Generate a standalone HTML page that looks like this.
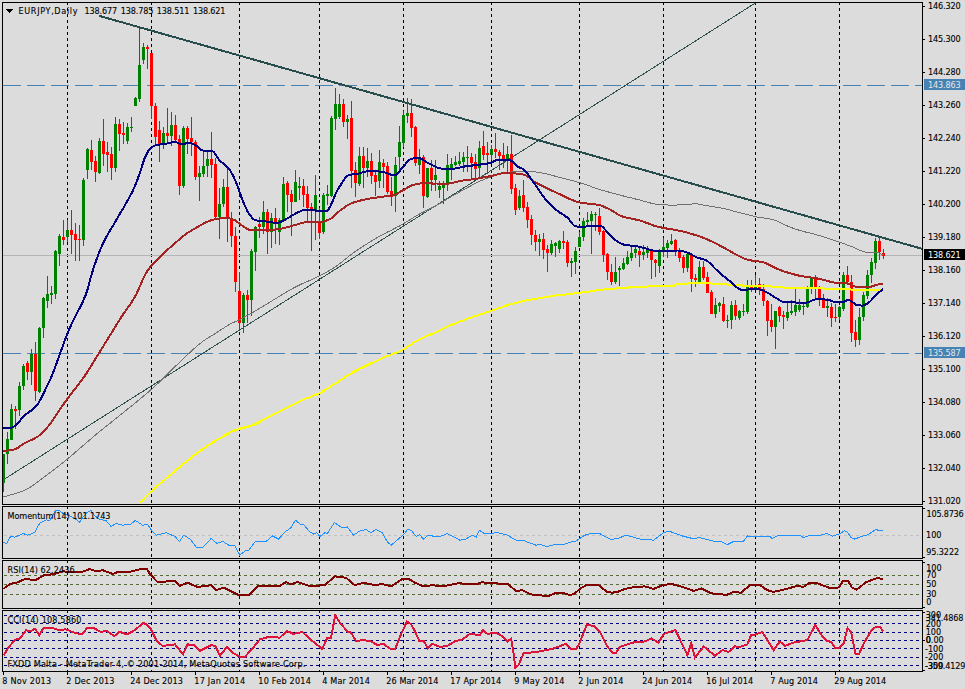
<!DOCTYPE html>
<html><head><meta charset="utf-8"><title>EURJPY,Daily</title>
<style>html,body{margin:0;padding:0;background:#dcdcdc;overflow:hidden}svg text{white-space:pre;stroke:#000;stroke-width:.22px;stroke-opacity:.55}svg text[fill]{stroke:none}</style></head>
<body>
<svg width="965" height="689" viewBox="0 0 965 689" style="display:block;font-family:'DejaVu Sans Condensed', 'Liberation Sans', sans-serif;font-size:9px;letter-spacing:0px">
<rect width="965" height="689" fill="#dcdcdc"/>
<g shape-rendering="crispEdges">
<defs>
<clipPath id="cp0"><rect x="3" y="3" width="919" height="501"/></clipPath>
<clipPath id="cp1"><rect x="3" y="507" width="919" height="51"/></clipPath>
<clipPath id="cp2"><rect x="3" y="561" width="919" height="47"/></clipPath>
<clipPath id="cp3"><rect x="3" y="611" width="919" height="60"/></clipPath>
</defs>
<g clip-path="url(#cp0)">
<line x1="67.5" y1="2" x2="67.5" y2="504" stroke="#000" stroke-width="1" stroke-dasharray="3 3"/><line x1="151.5" y1="2" x2="151.5" y2="504" stroke="#000" stroke-width="1" stroke-dasharray="3 3"/><line x1="239.5" y1="2" x2="239.5" y2="504" stroke="#000" stroke-width="1" stroke-dasharray="3 3"/><line x1="319.5" y1="2" x2="319.5" y2="504" stroke="#000" stroke-width="1" stroke-dasharray="3 3"/><line x1="403.5" y1="2" x2="403.5" y2="504" stroke="#000" stroke-width="1" stroke-dasharray="3 3"/><line x1="491.5" y1="2" x2="491.5" y2="504" stroke="#000" stroke-width="1" stroke-dasharray="3 3"/><line x1="579.5" y1="2" x2="579.5" y2="504" stroke="#000" stroke-width="1" stroke-dasharray="3 3"/><line x1="663.5" y1="2" x2="663.5" y2="504" stroke="#000" stroke-width="1" stroke-dasharray="3 3"/><line x1="755.5" y1="2" x2="755.5" y2="504" stroke="#000" stroke-width="1" stroke-dasharray="3 3"/><line x1="839.5" y1="2" x2="839.5" y2="504" stroke="#000" stroke-width="1" stroke-dasharray="3 3"/>
<line x1="3" y1="85.5" x2="922" y2="85.5" stroke="#4682b4" stroke-width="1" stroke-dasharray="18 6"/>
<line x1="3" y1="353.5" x2="922" y2="353.5" stroke="#4682b4" stroke-width="1" stroke-dasharray="18 6"/>
<line x1="3" y1="255.5" x2="922" y2="255.5" stroke="#b4b4b4" stroke-width="1"/>
<line x1="3" y1="480" x2="756" y2="2.6" stroke="#2f4f4f" stroke-width="1"/>
<rect x="3" y="454" width="1" height="38" fill="#008000"/>
<rect x="2" y="454" width="3" height="29" fill="#008000"/>
<rect x="7" y="432" width="1" height="32" fill="#008000"/>
<rect x="6" y="439" width="3" height="15" fill="#008000"/>
<rect x="11" y="404" width="1" height="36" fill="#008000"/>
<rect x="10" y="409" width="3" height="31" fill="#008000"/>
<rect x="15" y="406" width="1" height="23" fill="#ff0000"/>
<rect x="14" y="409" width="3" height="2" fill="#ff0000"/>
<rect x="19" y="382" width="1" height="34" fill="#008000"/>
<rect x="18" y="386" width="3" height="24" fill="#008000"/>
<rect x="23" y="364" width="1" height="26" fill="#008000"/>
<rect x="22" y="366" width="3" height="20" fill="#008000"/>
<rect x="27" y="361" width="1" height="19" fill="#ff0000"/>
<rect x="26" y="363" width="3" height="9" fill="#ff0000"/>
<rect x="31" y="349" width="1" height="36" fill="#008000"/>
<rect x="30" y="354" width="3" height="18" fill="#008000"/>
<rect x="35" y="342" width="1" height="59" fill="#ff0000"/>
<rect x="34" y="354" width="3" height="37" fill="#ff0000"/>
<rect x="39" y="327" width="1" height="66" fill="#008000"/>
<rect x="38" y="328" width="3" height="64" fill="#008000"/>
<rect x="43" y="297" width="1" height="41" fill="#008000"/>
<rect x="42" y="298" width="3" height="30" fill="#008000"/>
<rect x="47" y="276" width="1" height="32" fill="#008000"/>
<rect x="46" y="294" width="3" height="7" fill="#008000"/>
<rect x="51" y="286" width="1" height="18" fill="#008000"/>
<rect x="50" y="293" width="3" height="2" fill="#008000"/>
<rect x="55" y="250" width="1" height="49" fill="#008000"/>
<rect x="54" y="251" width="3" height="43" fill="#008000"/>
<rect x="59" y="234" width="1" height="32" fill="#008000"/>
<rect x="58" y="236" width="3" height="18" fill="#008000"/>
<rect x="63" y="220" width="1" height="25" fill="#ff0000"/>
<rect x="62" y="237" width="3" height="3" fill="#ff0000"/>
<rect x="67" y="220" width="1" height="22" fill="#008000"/>
<rect x="66" y="230" width="3" height="7" fill="#008000"/>
<rect x="71" y="210" width="1" height="44" fill="#ff0000"/>
<rect x="70" y="230" width="3" height="5" fill="#ff0000"/>
<rect x="75" y="223" width="1" height="38" fill="#ff0000"/>
<rect x="74" y="234" width="3" height="6" fill="#ff0000"/>
<rect x="79" y="225" width="1" height="36" fill="#ff0000"/>
<rect x="78" y="239" width="3" height="1" fill="#ff0000"/>
<rect x="83" y="178" width="1" height="68" fill="#008000"/>
<rect x="82" y="180" width="3" height="60" fill="#008000"/>
<rect x="87" y="148" width="1" height="31" fill="#008000"/>
<rect x="86" y="149" width="3" height="21" fill="#008000"/>
<rect x="91" y="140" width="1" height="30" fill="#ff0000"/>
<rect x="90" y="150" width="3" height="12" fill="#ff0000"/>
<rect x="95" y="156" width="1" height="26" fill="#ff0000"/>
<rect x="94" y="161" width="3" height="11" fill="#ff0000"/>
<rect x="99" y="138" width="1" height="36" fill="#008000"/>
<rect x="98" y="141" width="3" height="32" fill="#008000"/>
<rect x="103" y="119" width="1" height="47" fill="#ff0000"/>
<rect x="102" y="141" width="3" height="13" fill="#ff0000"/>
<rect x="107" y="142" width="1" height="30" fill="#ff0000"/>
<rect x="106" y="152" width="3" height="3" fill="#ff0000"/>
<rect x="111" y="147" width="1" height="33" fill="#ff0000"/>
<rect x="110" y="154" width="3" height="14" fill="#ff0000"/>
<rect x="115" y="117" width="1" height="55" fill="#008000"/>
<rect x="114" y="124" width="3" height="44" fill="#008000"/>
<rect x="119" y="119" width="1" height="32" fill="#ff0000"/>
<rect x="118" y="124" width="3" height="10" fill="#ff0000"/>
<rect x="123" y="122" width="1" height="22" fill="#ff0000"/>
<rect x="122" y="133" width="3" height="2" fill="#ff0000"/>
<rect x="127" y="123" width="1" height="21" fill="#008000"/>
<rect x="126" y="127" width="3" height="14" fill="#008000"/>
<rect x="131" y="117" width="1" height="15" fill="#008000"/>
<rect x="130" y="127" width="3" height="1" fill="#008000"/>
<rect x="135" y="97" width="1" height="9" fill="#008000"/>
<rect x="134" y="98" width="3" height="8" fill="#008000"/>
<rect x="139" y="27" width="1" height="75" fill="#008000"/>
<rect x="138" y="65" width="3" height="34" fill="#008000"/>
<rect x="143" y="43" width="1" height="21" fill="#008000"/>
<rect x="142" y="47" width="3" height="13" fill="#008000"/>
<rect x="147" y="45" width="1" height="24" fill="#ff0000"/>
<rect x="146" y="47" width="3" height="2" fill="#ff0000"/>
<rect x="151" y="53" width="1" height="66" fill="#ff0000"/>
<rect x="150" y="53" width="3" height="53" fill="#ff0000"/>
<rect x="155" y="103" width="1" height="41" fill="#ff0000"/>
<rect x="154" y="106" width="3" height="31" fill="#ff0000"/>
<rect x="159" y="121" width="1" height="41" fill="#ff0000"/>
<rect x="158" y="130" width="3" height="14" fill="#ff0000"/>
<rect x="163" y="127" width="1" height="22" fill="#008000"/>
<rect x="162" y="133" width="3" height="11" fill="#008000"/>
<rect x="167" y="108" width="1" height="35" fill="#ff0000"/>
<rect x="166" y="133" width="3" height="3" fill="#ff0000"/>
<rect x="171" y="112" width="1" height="34" fill="#008000"/>
<rect x="170" y="125" width="3" height="11" fill="#008000"/>
<rect x="175" y="115" width="1" height="28" fill="#ff0000"/>
<rect x="174" y="125" width="3" height="15" fill="#ff0000"/>
<rect x="179" y="135" width="1" height="60" fill="#ff0000"/>
<rect x="178" y="139" width="3" height="47" fill="#ff0000"/>
<rect x="183" y="126" width="1" height="62" fill="#008000"/>
<rect x="182" y="128" width="3" height="58" fill="#008000"/>
<rect x="187" y="126" width="1" height="28" fill="#ff0000"/>
<rect x="186" y="128" width="3" height="11" fill="#ff0000"/>
<rect x="191" y="117" width="1" height="39" fill="#ff0000"/>
<rect x="190" y="138" width="3" height="4" fill="#ff0000"/>
<rect x="195" y="140" width="1" height="40" fill="#ff0000"/>
<rect x="194" y="142" width="3" height="35" fill="#ff0000"/>
<rect x="199" y="166" width="1" height="35" fill="#008000"/>
<rect x="198" y="173" width="3" height="4" fill="#008000"/>
<rect x="203" y="152" width="1" height="25" fill="#008000"/>
<rect x="202" y="166" width="3" height="8" fill="#008000"/>
<rect x="207" y="152" width="1" height="25" fill="#008000"/>
<rect x="206" y="159" width="3" height="7" fill="#008000"/>
<rect x="211" y="132" width="1" height="46" fill="#ff0000"/>
<rect x="210" y="159" width="3" height="6" fill="#ff0000"/>
<rect x="215" y="158" width="1" height="61" fill="#ff0000"/>
<rect x="214" y="164" width="3" height="53" fill="#ff0000"/>
<rect x="219" y="188" width="1" height="51" fill="#008000"/>
<rect x="218" y="204" width="3" height="13" fill="#008000"/>
<rect x="223" y="179" width="1" height="28" fill="#008000"/>
<rect x="222" y="187" width="3" height="17" fill="#008000"/>
<rect x="227" y="169" width="1" height="73" fill="#ff0000"/>
<rect x="226" y="187" width="3" height="31" fill="#ff0000"/>
<rect x="231" y="212" width="1" height="35" fill="#ff0000"/>
<rect x="230" y="218" width="3" height="18" fill="#ff0000"/>
<rect x="235" y="227" width="1" height="65" fill="#ff0000"/>
<rect x="234" y="236" width="3" height="46" fill="#ff0000"/>
<rect x="239" y="272" width="1" height="57" fill="#ff0000"/>
<rect x="238" y="291" width="3" height="32" fill="#ff0000"/>
<rect x="243" y="293" width="1" height="40" fill="#008000"/>
<rect x="242" y="295" width="3" height="28" fill="#008000"/>
<rect x="247" y="290" width="1" height="33" fill="#ff0000"/>
<rect x="246" y="295" width="3" height="5" fill="#ff0000"/>
<rect x="251" y="249" width="1" height="67" fill="#008000"/>
<rect x="250" y="251" width="3" height="49" fill="#008000"/>
<rect x="255" y="226" width="1" height="45" fill="#008000"/>
<rect x="254" y="227" width="3" height="25" fill="#008000"/>
<rect x="259" y="217" width="1" height="21" fill="#ff0000"/>
<rect x="258" y="224" width="3" height="3" fill="#ff0000"/>
<rect x="263" y="201" width="1" height="33" fill="#008000"/>
<rect x="262" y="212" width="3" height="15" fill="#008000"/>
<rect x="267" y="209" width="1" height="45" fill="#ff0000"/>
<rect x="266" y="212" width="3" height="20" fill="#ff0000"/>
<rect x="271" y="213" width="1" height="35" fill="#008000"/>
<rect x="270" y="218" width="3" height="14" fill="#008000"/>
<rect x="275" y="208" width="1" height="36" fill="#ff0000"/>
<rect x="274" y="218" width="3" height="4" fill="#ff0000"/>
<rect x="279" y="218" width="1" height="27" fill="#008000"/>
<rect x="278" y="220" width="3" height="12" fill="#008000"/>
<rect x="283" y="177" width="1" height="45" fill="#008000"/>
<rect x="282" y="184" width="3" height="36" fill="#008000"/>
<rect x="287" y="181" width="1" height="31" fill="#ff0000"/>
<rect x="286" y="183" width="3" height="12" fill="#ff0000"/>
<rect x="291" y="190" width="1" height="46" fill="#ff0000"/>
<rect x="290" y="194" width="3" height="8" fill="#ff0000"/>
<rect x="295" y="170" width="1" height="32" fill="#008000"/>
<rect x="294" y="182" width="3" height="20" fill="#008000"/>
<rect x="299" y="177" width="1" height="23" fill="#008000"/>
<rect x="298" y="186" width="3" height="2" fill="#008000"/>
<rect x="303" y="179" width="1" height="28" fill="#ff0000"/>
<rect x="302" y="186" width="3" height="9" fill="#ff0000"/>
<rect x="307" y="186" width="1" height="36" fill="#ff0000"/>
<rect x="306" y="194" width="3" height="14" fill="#ff0000"/>
<rect x="311" y="203" width="1" height="48" fill="#ff0000"/>
<rect x="310" y="207" width="3" height="3" fill="#ff0000"/>
<rect x="315" y="175" width="1" height="65" fill="#008000"/>
<rect x="314" y="195" width="3" height="15" fill="#008000"/>
<rect x="319" y="208" width="1" height="31" fill="#ff0000"/>
<rect x="318" y="222" width="3" height="11" fill="#ff0000"/>
<rect x="323" y="193" width="1" height="41" fill="#008000"/>
<rect x="322" y="195" width="3" height="37" fill="#008000"/>
<rect x="327" y="185" width="1" height="20" fill="#008000"/>
<rect x="326" y="194" width="3" height="2" fill="#008000"/>
<rect x="331" y="116" width="1" height="81" fill="#008000"/>
<rect x="330" y="118" width="3" height="78" fill="#008000"/>
<rect x="335" y="88" width="1" height="42" fill="#008000"/>
<rect x="334" y="104" width="3" height="15" fill="#008000"/>
<rect x="339" y="94" width="1" height="25" fill="#008000"/>
<rect x="338" y="104" width="3" height="13" fill="#008000"/>
<rect x="343" y="99" width="1" height="28" fill="#ff0000"/>
<rect x="342" y="104" width="3" height="18" fill="#ff0000"/>
<rect x="347" y="115" width="1" height="24" fill="#008000"/>
<rect x="346" y="119" width="3" height="3" fill="#008000"/>
<rect x="351" y="101" width="1" height="87" fill="#ff0000"/>
<rect x="350" y="118" width="3" height="53" fill="#ff0000"/>
<rect x="355" y="162" width="1" height="35" fill="#ff0000"/>
<rect x="354" y="170" width="3" height="13" fill="#ff0000"/>
<rect x="359" y="147" width="1" height="39" fill="#008000"/>
<rect x="358" y="156" width="3" height="28" fill="#008000"/>
<rect x="363" y="147" width="1" height="41" fill="#ff0000"/>
<rect x="362" y="156" width="3" height="12" fill="#ff0000"/>
<rect x="367" y="148" width="1" height="29" fill="#008000"/>
<rect x="366" y="161" width="3" height="7" fill="#008000"/>
<rect x="371" y="153" width="1" height="31" fill="#ff0000"/>
<rect x="370" y="161" width="3" height="15" fill="#ff0000"/>
<rect x="375" y="170" width="1" height="26" fill="#ff0000"/>
<rect x="374" y="175" width="3" height="7" fill="#ff0000"/>
<rect x="379" y="150" width="1" height="38" fill="#008000"/>
<rect x="378" y="162" width="3" height="19" fill="#008000"/>
<rect x="383" y="159" width="1" height="29" fill="#ff0000"/>
<rect x="382" y="163" width="3" height="4" fill="#ff0000"/>
<rect x="387" y="162" width="1" height="32" fill="#ff0000"/>
<rect x="386" y="166" width="3" height="26" fill="#ff0000"/>
<rect x="391" y="177" width="1" height="29" fill="#ff0000"/>
<rect x="390" y="191" width="3" height="6" fill="#ff0000"/>
<rect x="395" y="157" width="1" height="55" fill="#008000"/>
<rect x="394" y="165" width="3" height="31" fill="#008000"/>
<rect x="399" y="126" width="1" height="44" fill="#008000"/>
<rect x="398" y="142" width="3" height="15" fill="#008000"/>
<rect x="403" y="111" width="1" height="36" fill="#008000"/>
<rect x="402" y="115" width="3" height="28" fill="#008000"/>
<rect x="407" y="98" width="1" height="25" fill="#008000"/>
<rect x="406" y="113" width="3" height="3" fill="#008000"/>
<rect x="411" y="99" width="1" height="38" fill="#ff0000"/>
<rect x="410" y="113" width="3" height="15" fill="#ff0000"/>
<rect x="415" y="126" width="1" height="40" fill="#ff0000"/>
<rect x="414" y="127" width="3" height="36" fill="#ff0000"/>
<rect x="419" y="149" width="1" height="25" fill="#008000"/>
<rect x="418" y="158" width="3" height="7" fill="#008000"/>
<rect x="423" y="155" width="1" height="53" fill="#ff0000"/>
<rect x="422" y="157" width="3" height="39" fill="#ff0000"/>
<rect x="427" y="168" width="1" height="30" fill="#008000"/>
<rect x="426" y="168" width="3" height="29" fill="#008000"/>
<rect x="431" y="160" width="1" height="31" fill="#ff0000"/>
<rect x="430" y="168" width="3" height="12" fill="#ff0000"/>
<rect x="435" y="160" width="1" height="31" fill="#008000"/>
<rect x="434" y="175" width="3" height="5" fill="#008000"/>
<rect x="439" y="181" width="1" height="17" fill="#008000"/>
<rect x="438" y="186" width="3" height="4" fill="#008000"/>
<rect x="443" y="181" width="1" height="23" fill="#008000"/>
<rect x="442" y="184" width="3" height="4" fill="#008000"/>
<rect x="447" y="154" width="1" height="37" fill="#008000"/>
<rect x="446" y="165" width="3" height="20" fill="#008000"/>
<rect x="451" y="158" width="1" height="22" fill="#008000"/>
<rect x="450" y="164" width="3" height="4" fill="#008000"/>
<rect x="455" y="156" width="1" height="10" fill="#008000"/>
<rect x="454" y="162" width="3" height="3" fill="#008000"/>
<rect x="459" y="152" width="1" height="14" fill="#008000"/>
<rect x="458" y="161" width="3" height="3" fill="#008000"/>
<rect x="463" y="152" width="1" height="20" fill="#008000"/>
<rect x="462" y="157" width="3" height="5" fill="#008000"/>
<rect x="467" y="146" width="1" height="26" fill="#008000"/>
<rect x="466" y="157" width="3" height="1" fill="#008000"/>
<rect x="471" y="153" width="1" height="25" fill="#ff0000"/>
<rect x="470" y="157" width="3" height="6" fill="#ff0000"/>
<rect x="475" y="154" width="1" height="24" fill="#ff0000"/>
<rect x="474" y="162" width="3" height="7" fill="#ff0000"/>
<rect x="479" y="141" width="1" height="36" fill="#008000"/>
<rect x="478" y="148" width="3" height="20" fill="#008000"/>
<rect x="483" y="131" width="1" height="29" fill="#ff0000"/>
<rect x="482" y="146" width="3" height="9" fill="#ff0000"/>
<rect x="487" y="142" width="1" height="32" fill="#ff0000"/>
<rect x="486" y="153" width="3" height="2" fill="#ff0000"/>
<rect x="491" y="145" width="1" height="15" fill="#008000"/>
<rect x="490" y="149" width="3" height="6" fill="#008000"/>
<rect x="495" y="133" width="1" height="25" fill="#ff0000"/>
<rect x="494" y="149" width="3" height="3" fill="#ff0000"/>
<rect x="499" y="150" width="1" height="20" fill="#ff0000"/>
<rect x="498" y="152" width="3" height="4" fill="#ff0000"/>
<rect x="503" y="143" width="1" height="25" fill="#ff0000"/>
<rect x="502" y="155" width="3" height="4" fill="#ff0000"/>
<rect x="507" y="146" width="1" height="26" fill="#008000"/>
<rect x="506" y="154" width="3" height="5" fill="#008000"/>
<rect x="511" y="135" width="1" height="59" fill="#ff0000"/>
<rect x="510" y="154" width="3" height="35" fill="#ff0000"/>
<rect x="515" y="184" width="1" height="31" fill="#ff0000"/>
<rect x="514" y="188" width="3" height="22" fill="#ff0000"/>
<rect x="519" y="190" width="1" height="20" fill="#008000"/>
<rect x="518" y="196" width="3" height="12" fill="#008000"/>
<rect x="523" y="180" width="1" height="32" fill="#ff0000"/>
<rect x="522" y="195" width="3" height="13" fill="#ff0000"/>
<rect x="527" y="202" width="1" height="26" fill="#ff0000"/>
<rect x="526" y="207" width="3" height="13" fill="#ff0000"/>
<rect x="531" y="215" width="1" height="30" fill="#ff0000"/>
<rect x="530" y="219" width="3" height="16" fill="#ff0000"/>
<rect x="535" y="230" width="1" height="21" fill="#ff0000"/>
<rect x="534" y="235" width="3" height="7" fill="#ff0000"/>
<rect x="539" y="234" width="1" height="22" fill="#008000"/>
<rect x="538" y="239" width="3" height="3" fill="#008000"/>
<rect x="543" y="233" width="1" height="26" fill="#ff0000"/>
<rect x="542" y="239" width="3" height="11" fill="#ff0000"/>
<rect x="547" y="245" width="1" height="27" fill="#ff0000"/>
<rect x="546" y="249" width="3" height="4" fill="#ff0000"/>
<rect x="551" y="240" width="1" height="15" fill="#008000"/>
<rect x="550" y="244" width="3" height="9" fill="#008000"/>
<rect x="555" y="242" width="1" height="15" fill="#008000"/>
<rect x="554" y="243" width="3" height="3" fill="#008000"/>
<rect x="559" y="240" width="1" height="13" fill="#008000"/>
<rect x="558" y="241" width="3" height="8" fill="#008000"/>
<rect x="563" y="231" width="1" height="18" fill="#ff0000"/>
<rect x="562" y="241" width="3" height="2" fill="#ff0000"/>
<rect x="567" y="240" width="1" height="27" fill="#ff0000"/>
<rect x="566" y="242" width="3" height="21" fill="#ff0000"/>
<rect x="571" y="258" width="1" height="19" fill="#008000"/>
<rect x="570" y="261" width="3" height="2" fill="#008000"/>
<rect x="575" y="247" width="1" height="27" fill="#008000"/>
<rect x="574" y="251" width="3" height="11" fill="#008000"/>
<rect x="579" y="232" width="1" height="15" fill="#008000"/>
<rect x="578" y="237" width="3" height="10" fill="#008000"/>
<rect x="583" y="218" width="1" height="23" fill="#008000"/>
<rect x="582" y="221" width="3" height="16" fill="#008000"/>
<rect x="587" y="212" width="1" height="14" fill="#008000"/>
<rect x="586" y="220" width="3" height="2" fill="#008000"/>
<rect x="591" y="211" width="1" height="43" fill="#008000"/>
<rect x="590" y="214" width="3" height="7" fill="#008000"/>
<rect x="595" y="212" width="1" height="19" fill="#008000"/>
<rect x="594" y="214" width="3" height="1" fill="#008000"/>
<rect x="599" y="208" width="1" height="27" fill="#ff0000"/>
<rect x="598" y="216" width="3" height="16" fill="#ff0000"/>
<rect x="603" y="230" width="1" height="32" fill="#ff0000"/>
<rect x="602" y="231" width="3" height="24" fill="#ff0000"/>
<rect x="607" y="253" width="1" height="27" fill="#ff0000"/>
<rect x="606" y="254" width="3" height="18" fill="#ff0000"/>
<rect x="611" y="264" width="1" height="21" fill="#ff0000"/>
<rect x="610" y="272" width="3" height="10" fill="#ff0000"/>
<rect x="615" y="257" width="1" height="27" fill="#008000"/>
<rect x="614" y="272" width="3" height="10" fill="#008000"/>
<rect x="619" y="266" width="1" height="20" fill="#008000"/>
<rect x="618" y="268" width="3" height="2" fill="#008000"/>
<rect x="623" y="258" width="1" height="12" fill="#008000"/>
<rect x="622" y="263" width="3" height="6" fill="#008000"/>
<rect x="627" y="251" width="1" height="14" fill="#008000"/>
<rect x="626" y="257" width="3" height="7" fill="#008000"/>
<rect x="631" y="247" width="1" height="14" fill="#008000"/>
<rect x="630" y="253" width="3" height="5" fill="#008000"/>
<rect x="635" y="246" width="1" height="12" fill="#008000"/>
<rect x="634" y="249" width="3" height="4" fill="#008000"/>
<rect x="639" y="248" width="1" height="19" fill="#ff0000"/>
<rect x="638" y="251" width="3" height="4" fill="#ff0000"/>
<rect x="643" y="245" width="1" height="15" fill="#008000"/>
<rect x="642" y="252" width="3" height="3" fill="#008000"/>
<rect x="647" y="246" width="1" height="12" fill="#008000"/>
<rect x="646" y="250" width="3" height="3" fill="#008000"/>
<rect x="651" y="249" width="1" height="30" fill="#ff0000"/>
<rect x="650" y="251" width="3" height="9" fill="#ff0000"/>
<rect x="655" y="259" width="1" height="18" fill="#ff0000"/>
<rect x="654" y="260" width="3" height="3" fill="#ff0000"/>
<rect x="659" y="249" width="1" height="24" fill="#008000"/>
<rect x="658" y="251" width="3" height="15" fill="#008000"/>
<rect x="663" y="238" width="1" height="19" fill="#008000"/>
<rect x="662" y="247" width="3" height="4" fill="#008000"/>
<rect x="667" y="240" width="1" height="18" fill="#008000"/>
<rect x="666" y="243" width="3" height="5" fill="#008000"/>
<rect x="671" y="234" width="1" height="11" fill="#008000"/>
<rect x="670" y="241" width="3" height="3" fill="#008000"/>
<rect x="675" y="239" width="1" height="17" fill="#ff0000"/>
<rect x="674" y="240" width="3" height="11" fill="#ff0000"/>
<rect x="679" y="248" width="1" height="14" fill="#ff0000"/>
<rect x="678" y="251" width="3" height="7" fill="#ff0000"/>
<rect x="683" y="255" width="1" height="18" fill="#ff0000"/>
<rect x="682" y="257" width="3" height="11" fill="#ff0000"/>
<rect x="687" y="253" width="1" height="19" fill="#008000"/>
<rect x="686" y="254" width="3" height="14" fill="#008000"/>
<rect x="691" y="254" width="1" height="38" fill="#ff0000"/>
<rect x="690" y="255" width="3" height="24" fill="#ff0000"/>
<rect x="695" y="274" width="1" height="13" fill="#ff0000"/>
<rect x="694" y="278" width="3" height="2" fill="#ff0000"/>
<rect x="699" y="261" width="1" height="21" fill="#008000"/>
<rect x="698" y="267" width="3" height="15" fill="#008000"/>
<rect x="703" y="261" width="1" height="19" fill="#ff0000"/>
<rect x="702" y="267" width="3" height="11" fill="#ff0000"/>
<rect x="707" y="272" width="1" height="21" fill="#ff0000"/>
<rect x="706" y="277" width="3" height="16" fill="#ff0000"/>
<rect x="711" y="290" width="1" height="24" fill="#ff0000"/>
<rect x="710" y="292" width="3" height="22" fill="#ff0000"/>
<rect x="715" y="298" width="1" height="20" fill="#008000"/>
<rect x="714" y="305" width="3" height="9" fill="#008000"/>
<rect x="719" y="302" width="1" height="10" fill="#008000"/>
<rect x="718" y="303" width="3" height="3" fill="#008000"/>
<rect x="723" y="297" width="1" height="25" fill="#ff0000"/>
<rect x="722" y="304" width="3" height="17" fill="#ff0000"/>
<rect x="727" y="315" width="1" height="13" fill="#008000"/>
<rect x="726" y="320" width="3" height="1" fill="#008000"/>
<rect x="731" y="301" width="1" height="28" fill="#008000"/>
<rect x="730" y="305" width="3" height="15" fill="#008000"/>
<rect x="735" y="300" width="1" height="20" fill="#ff0000"/>
<rect x="734" y="305" width="3" height="11" fill="#ff0000"/>
<rect x="739" y="310" width="1" height="10" fill="#008000"/>
<rect x="738" y="311" width="3" height="7" fill="#008000"/>
<rect x="743" y="304" width="1" height="12" fill="#008000"/>
<rect x="742" y="311" width="3" height="1" fill="#008000"/>
<rect x="747" y="280" width="1" height="34" fill="#008000"/>
<rect x="746" y="287" width="3" height="25" fill="#008000"/>
<rect x="751" y="280" width="1" height="12" fill="#ff0000"/>
<rect x="750" y="287" width="3" height="2" fill="#ff0000"/>
<rect x="755" y="275" width="1" height="15" fill="#008000"/>
<rect x="754" y="285" width="3" height="4" fill="#008000"/>
<rect x="759" y="278" width="1" height="17" fill="#ff0000"/>
<rect x="758" y="284" width="3" height="6" fill="#ff0000"/>
<rect x="763" y="284" width="1" height="22" fill="#ff0000"/>
<rect x="762" y="289" width="3" height="12" fill="#ff0000"/>
<rect x="767" y="300" width="1" height="36" fill="#ff0000"/>
<rect x="766" y="301" width="3" height="20" fill="#ff0000"/>
<rect x="771" y="304" width="1" height="28" fill="#ff0000"/>
<rect x="770" y="320" width="3" height="7" fill="#ff0000"/>
<rect x="775" y="311" width="1" height="38" fill="#008000"/>
<rect x="774" y="311" width="3" height="16" fill="#008000"/>
<rect x="779" y="306" width="1" height="16" fill="#ff0000"/>
<rect x="778" y="307" width="3" height="9" fill="#ff0000"/>
<rect x="783" y="311" width="1" height="18" fill="#ff0000"/>
<rect x="782" y="315" width="3" height="2" fill="#ff0000"/>
<rect x="787" y="303" width="1" height="18" fill="#008000"/>
<rect x="786" y="312" width="3" height="6" fill="#008000"/>
<rect x="791" y="300" width="1" height="15" fill="#008000"/>
<rect x="790" y="311" width="3" height="2" fill="#008000"/>
<rect x="795" y="289" width="1" height="27" fill="#008000"/>
<rect x="794" y="305" width="3" height="7" fill="#008000"/>
<rect x="799" y="299" width="1" height="13" fill="#008000"/>
<rect x="798" y="305" width="3" height="5" fill="#008000"/>
<rect x="803" y="304" width="1" height="11" fill="#008000"/>
<rect x="802" y="306" width="3" height="1" fill="#008000"/>
<rect x="807" y="286" width="1" height="22" fill="#008000"/>
<rect x="806" y="289" width="3" height="18" fill="#008000"/>
<rect x="811" y="277" width="1" height="17" fill="#008000"/>
<rect x="810" y="278" width="3" height="11" fill="#008000"/>
<rect x="815" y="275" width="1" height="23" fill="#ff0000"/>
<rect x="814" y="278" width="3" height="11" fill="#ff0000"/>
<rect x="819" y="286" width="1" height="20" fill="#ff0000"/>
<rect x="818" y="288" width="3" height="12" fill="#ff0000"/>
<rect x="823" y="294" width="1" height="14" fill="#ff0000"/>
<rect x="822" y="299" width="3" height="9" fill="#ff0000"/>
<rect x="827" y="298" width="1" height="19" fill="#008000"/>
<rect x="826" y="306" width="3" height="2" fill="#008000"/>
<rect x="831" y="303" width="1" height="24" fill="#ff0000"/>
<rect x="830" y="307" width="3" height="11" fill="#ff0000"/>
<rect x="835" y="304" width="1" height="18" fill="#ff0000"/>
<rect x="834" y="317" width="3" height="1" fill="#ff0000"/>
<rect x="839" y="306" width="1" height="14" fill="#008000"/>
<rect x="838" y="307" width="3" height="10" fill="#008000"/>
<rect x="843" y="272" width="1" height="39" fill="#008000"/>
<rect x="842" y="275" width="3" height="34" fill="#008000"/>
<rect x="847" y="266" width="1" height="18" fill="#ff0000"/>
<rect x="846" y="275" width="3" height="7" fill="#ff0000"/>
<rect x="851" y="275" width="1" height="67" fill="#ff0000"/>
<rect x="850" y="282" width="3" height="51" fill="#ff0000"/>
<rect x="855" y="320" width="1" height="27" fill="#ff0000"/>
<rect x="854" y="332" width="3" height="8" fill="#ff0000"/>
<rect x="859" y="308" width="1" height="37" fill="#008000"/>
<rect x="858" y="317" width="3" height="23" fill="#008000"/>
<rect x="863" y="292" width="1" height="29" fill="#008000"/>
<rect x="862" y="295" width="3" height="22" fill="#008000"/>
<rect x="867" y="270" width="1" height="29" fill="#008000"/>
<rect x="866" y="275" width="3" height="21" fill="#008000"/>
<rect x="871" y="258" width="1" height="25" fill="#008000"/>
<rect x="870" y="262" width="3" height="13" fill="#008000"/>
<rect x="875" y="238" width="1" height="31" fill="#008000"/>
<rect x="874" y="241" width="3" height="22" fill="#008000"/>
<rect x="879" y="237" width="1" height="23" fill="#ff0000"/>
<rect x="878" y="241" width="3" height="11" fill="#ff0000"/>
<rect x="883" y="249" width="1" height="10" fill="#ff0000"/>
<rect x="882" y="253" width="3" height="3" fill="#ff0000"/>
<polyline points="3.6,497.0 5.4,496.4 7.3,495.9 9.1,495.3 10.9,494.8 12.8,494.3 14.6,493.8 16.5,493.2 18.3,492.6 20.1,492.0 22.0,491.3 23.8,490.5 25.8,489.6 27.8,488.5 29.8,487.4 31.7,486.1 33.7,484.8 35.7,483.4 37.7,481.9 39.7,480.4 41.7,478.9 43.6,477.4 45.6,476.0 47.6,474.5 49.4,473.1 51.3,471.8 53.1,470.4 55.0,468.9 56.8,467.5 58.7,466.1 60.5,464.6 62.4,463.1 64.2,461.6 66.1,460.1 67.9,458.6 69.9,457.0 71.8,455.4 73.8,453.7 75.7,452.0 77.7,450.3 79.6,448.6 81.6,446.9 83.5,445.2 85.5,443.5 87.4,441.8 89.3,440.2 91.3,438.5 93.2,436.8 95.2,435.2 97.1,433.6 99.0,432.1 100.9,430.5 102.8,429.0 104.7,427.4 106.6,425.9 108.6,424.4 110.5,422.9 112.4,421.3 114.3,419.8 116.2,418.3 118.1,416.7 120.0,415.2 122.0,413.6 123.9,412.0 125.9,410.5 127.8,408.9 129.8,407.3 131.7,405.8 133.7,404.2 135.6,402.6 137.6,401.0 139.5,399.4 141.5,397.8 143.4,396.2 145.4,394.6 147.3,392.9 149.3,391.2 151.2,389.5 153.2,387.8 155.1,386.1 157.0,384.3 158.9,382.5 160.8,380.7 162.7,378.9 164.6,377.0 166.4,375.1 168.3,373.2 170.2,371.4 172.1,369.5 174.0,367.6 175.9,365.8 177.8,364.0 179.7,362.2 181.6,360.4 183.6,358.5 185.5,356.7 187.4,354.8 189.4,353.0 191.3,351.2 193.2,349.4 195.2,347.6 197.1,345.9 199.0,344.3 201.0,342.8 202.9,341.3 204.8,340.0 206.6,338.7 208.5,337.6 210.4,336.4 212.3,335.3 214.1,334.2 216.0,333.0 217.9,331.8 219.8,330.5 221.7,329.2 223.7,328.0 225.6,326.7 227.5,325.6 229.4,324.5 231.1,323.6 232.8,322.8 234.4,322.1 236.1,321.3 237.8,320.5 239.7,319.6 241.5,318.6 243.4,317.6 245.2,316.6 247.1,315.6 248.9,314.5 250.8,313.5 252.7,312.4 254.6,311.3 256.5,310.2 258.4,309.1 260.3,307.9 262.2,306.8 264.1,305.6 266.0,304.4 267.9,303.3 269.8,302.1 271.7,301.0 273.6,299.8 275.5,298.7 277.4,297.6 279.2,296.5 281.1,295.3 283.0,294.2 284.8,293.1 286.7,291.9 288.5,290.8 290.4,289.8 292.3,288.7 294.1,287.7 296.0,286.7 297.9,285.8 299.8,284.8 301.6,284.0 303.5,283.1 305.4,282.3 307.3,281.5 309.2,280.7 311.1,279.9 313.0,279.0 314.8,278.1 316.7,277.2 318.6,276.3 320.5,275.3 322.5,274.3 324.4,273.2 326.3,272.2 328.3,271.1 330.2,269.9 332.1,268.8 334.1,267.6 336.0,266.3 337.9,265.0 339.8,263.6 341.7,262.1 343.6,260.5 345.6,259.0 347.5,257.4 349.4,255.9 351.3,254.4 353.2,253.0 355.1,251.7 357.0,250.4 358.9,249.1 360.8,247.8 362.7,246.6 364.6,245.3 366.6,244.1 368.5,242.9 370.4,241.7 372.3,240.6 374.2,239.4 376.1,238.3 378.0,237.2 379.9,236.1 381.8,235.1 383.8,234.0 385.7,233.0 387.6,232.0 389.5,231.1 391.5,230.1 393.4,229.1 395.3,228.1 397.2,227.1 399.2,226.1 401.1,225.1 403.0,224.0 404.8,222.9 406.7,221.8 408.5,220.7 410.3,219.5 412.2,218.4 414.0,217.2 415.8,216.1 417.7,215.0 419.5,214.0 421.3,213.0 423.2,212.1 425.0,211.2 426.8,210.3 428.7,209.4 430.5,208.5 432.3,207.6 434.2,206.7 436.0,205.7 437.9,204.7 439.7,203.6 441.6,202.5 443.4,201.4 445.3,200.2 447.1,199.1 449.0,198.0 450.8,196.9 452.7,195.8 454.5,194.7 456.4,193.7 458.2,192.7 460.1,191.7 461.9,190.6 463.8,189.6 465.6,188.6 467.5,187.6 469.3,186.6 471.0,185.7 472.6,184.7 474.3,183.8 476.0,183.0 477.8,182.1 479.7,181.3 481.5,180.5 483.4,179.7 485.2,179.0 487.1,178.3 488.9,177.6 490.8,177.0 492.6,176.4 494.4,175.8 496.3,175.3 498.1,174.7 500.0,174.1 501.8,173.6 503.7,173.2 505.5,172.8 507.4,172.5 509.2,172.2 511.0,172.0 512.9,171.8 514.7,171.6 516.6,171.4 518.4,171.3 520.3,171.2 522.1,171.1 524.0,171.0 525.8,171.0 527.6,171.0 529.5,171.1 531.3,171.3 533.1,171.5 535.0,171.8 536.8,172.1 538.6,172.4 540.5,172.7 542.3,173.0 544.1,173.3 546.0,173.7 547.8,174.2 549.7,174.7 551.5,175.2 553.4,175.7 555.2,176.2 557.1,176.7 558.9,177.2 560.8,177.7 562.7,178.2 564.5,178.6 566.4,179.1 568.3,179.6 570.2,180.1 572.1,180.6 574.0,181.1 575.8,181.6 577.7,182.2 579.6,182.7 581.5,183.3 583.4,183.9 585.3,184.5 587.2,185.2 589.1,185.8 590.9,186.5 592.8,187.2 594.7,187.8 596.6,188.5 598.5,189.1 600.4,189.7 602.2,190.3 604.1,190.8 605.9,191.3 607.8,191.8 609.6,192.3 611.5,192.8 613.3,193.3 615.2,193.8 617.0,194.3 618.9,194.8 620.8,195.3 622.8,195.8 624.7,196.3 626.6,196.8 628.5,197.3 630.4,197.7 632.3,198.2 634.2,198.7 636.2,199.2 638.1,199.6 640.0,200.1 641.8,200.6 643.6,201.1 645.5,201.6 647.3,202.1 649.1,202.6 650.9,203.1 652.7,203.5 654.6,203.9 656.4,204.2 658.2,204.4 660.1,204.5 662.0,204.7 663.8,204.8 665.7,204.9 667.6,205.0 669.5,205.0 671.3,205.1 673.2,205.1 675.1,205.1 677.1,205.0 679.0,204.9 680.9,204.8 682.9,204.6 684.8,204.5 686.7,204.4 688.7,204.2 690.6,204.1 692.5,204.0 694.5,203.9 696.4,203.9 698.4,204.0 700.4,204.3 702.3,204.8 704.3,205.2 706.3,205.6 708.1,205.9 710.0,206.2 711.8,206.5 713.7,206.8 715.5,207.1 717.4,207.4 719.2,207.7 721.1,208.0 722.9,208.4 724.7,208.8 726.6,209.2 728.4,209.7 730.3,210.2 732.1,210.7 734.0,211.2 735.8,211.7 737.7,212.2 739.5,212.7 741.3,213.2 743.2,213.6 745.0,214.1 746.8,214.6 748.7,215.0 750.5,215.5 752.3,215.9 754.2,216.3 756.0,216.7 757.8,217.1 759.7,217.4 761.5,217.7 763.3,217.9 765.1,218.2 767.0,218.5 768.8,218.8 770.6,219.2 772.5,219.5 774.3,220.0 776.0,220.6 777.8,221.3 779.5,222.1 781.3,223.0 783.0,224.0 784.8,224.8 786.5,225.6 788.4,226.4 790.4,227.1 792.3,227.9 794.2,228.6 796.1,229.3 798.1,229.9 800.0,230.5 802.0,231.1 803.9,231.6 805.9,232.1 807.8,232.5 809.8,233.0 811.7,233.5 813.7,234.0 815.6,234.5 817.5,235.1 819.4,235.7 821.4,236.2 823.3,236.8 825.2,237.4 827.1,238.0 829.0,238.6 830.9,239.2 832.9,239.9 834.8,240.5 836.7,241.1 838.6,241.8 840.5,242.5 842.4,243.1 844.3,243.8 846.2,244.6 848.1,245.3 850.0,246.0 851.9,246.7 853.8,247.5 855.6,248.3 857.5,249.2 859.3,250.0 861.2,250.8 863.1,251.5 864.9,252.0 866.8,252.2 868.8,252.3 870.8,252.3 872.8,252.4 874.8,252.4 876.8,252.5 878.4,252.8 880.1,253.5 881.8,254.3 883.4,255.0" fill="none" stroke="#707070" stroke-width="1" />
<polyline points="139.9,502.8 141.8,500.9 143.7,498.9 145.6,497.0 147.5,495.0 149.4,493.1 151.3,491.3 153.2,489.5 155.0,487.8 156.9,486.2 158.7,484.7 160.5,483.1 162.4,481.6 164.2,480.1 166.0,478.6 167.9,477.1 169.7,475.6 171.5,474.0 173.4,472.5 175.2,470.9 177.1,469.3 178.9,467.8 180.8,466.2 182.6,464.7 184.5,463.2 186.3,461.7 188.1,460.2 190.0,458.8 191.8,457.3 193.7,455.8 195.5,454.4 197.4,453.0 199.2,451.6 201.1,450.3 202.9,449.0 204.7,447.7 206.6,446.5 208.4,445.3 210.3,444.1 212.1,442.9 214.0,441.8 215.8,440.7 217.7,439.6 219.5,438.5 221.3,437.4 223.2,436.4 225.0,435.3 226.8,434.3 228.7,433.3 230.5,432.3 232.3,431.4 234.2,430.6 236.0,429.9 237.8,429.3 239.7,428.7 241.5,428.2 243.4,427.8 245.2,427.3 247.1,426.9 248.9,426.4 250.8,425.8 252.6,425.2 254.4,424.5 256.3,423.6 258.1,422.7 260.0,421.7 261.8,420.7 263.7,419.6 265.5,418.6 267.4,417.6 269.2,416.6 271.0,415.7 272.9,414.8 274.7,413.9 276.6,413.0 278.4,412.2 280.3,411.3 282.1,410.4 284.0,409.5 285.8,408.6 287.6,407.7 289.5,406.7 291.3,405.7 293.2,404.7 295.0,403.7 296.9,402.7 298.7,401.8 300.6,400.9 302.4,400.0 304.2,399.2 306.1,398.5 307.9,397.8 309.8,397.1 311.6,396.4 313.5,395.7 315.3,395.0 317.2,394.2 319.0,393.4 320.8,392.5 322.7,391.5 324.5,390.4 326.3,389.3 328.2,388.1 330.0,386.9 331.8,385.7 333.7,384.6 335.5,383.4 337.3,382.2 339.2,381.0 341.0,379.8 342.8,378.6 344.7,377.4 346.5,376.2 348.3,375.0 350.2,373.9 352.0,372.8 353.9,371.8 355.7,370.8 357.6,369.9 359.4,368.9 361.3,368.0 363.1,367.1 365.0,366.3 366.8,365.4 368.7,364.5 370.5,363.6 372.4,362.7 374.2,361.9 376.1,361.0 377.9,360.2 379.8,359.3 381.6,358.5 383.5,357.7 385.3,356.9 387.1,356.1 389.0,355.4 390.8,354.7 392.6,354.1 394.5,353.4 396.3,352.7 398.1,352.0 400.0,351.2 401.8,350.3 403.6,349.3 405.5,348.2 407.3,347.0 409.2,345.7 411.0,344.4 412.9,343.1 414.7,341.9 416.6,340.7 418.4,339.7 420.4,338.7 422.3,337.8 424.3,337.0 426.3,336.2 428.2,335.4 430.2,334.6 432.1,333.9 434.1,333.1 436.1,332.3 438.0,331.4 440.0,330.5 441.6,329.7 443.1,328.8 444.7,328.0 446.6,327.1 448.5,326.3 450.4,325.4 452.3,324.6 454.2,323.9 456.1,323.1 458.0,322.3 459.9,321.6 461.8,320.9 463.7,320.2 465.6,319.5 467.5,318.8 469.4,318.1 471.2,317.4 473.1,316.8 474.9,316.2 476.8,315.5 478.6,314.9 480.5,314.3 482.4,313.7 484.2,313.1 486.1,312.5 487.9,311.9 489.8,311.3 491.6,310.7 493.5,310.1 495.4,309.4 497.2,308.8 499.1,308.1 501.0,307.5 502.9,306.8 504.7,306.2 506.6,305.5 508.5,304.9 510.4,304.3 512.2,303.8 514.1,303.3 516.0,302.8 518.0,302.3 519.9,301.9 521.9,301.4 523.8,301.0 525.8,300.6 527.7,300.2 529.7,299.8 531.6,299.4 533.6,299.1 535.5,298.7 537.5,298.4 539.4,298.0 541.4,297.7 543.3,297.4 545.3,297.1 547.2,296.8 549.2,296.5 551.1,296.2 553.1,296.0 555.0,295.7 557.0,295.4 558.9,295.2 560.9,295.0 562.8,294.7 564.8,294.5 566.7,294.3 568.7,294.1 570.6,293.9 572.6,293.7 574.5,293.4 576.5,293.2 578.4,293.0 580.4,292.7 582.3,292.5 584.2,292.2 586.1,292.0 588.0,291.7 590.0,291.4 591.9,291.1 593.8,290.9 595.7,290.6 597.6,290.3 599.5,290.0 601.5,289.8 603.4,289.6 605.3,289.4 607.2,289.2 609.0,289.0 610.9,288.9 612.7,288.7 614.5,288.6 616.3,288.5 618.2,288.4 620.0,288.4 621.9,288.4 623.8,288.4 625.6,288.4 627.5,288.4 628.7,287.4 630.5,287.4 632.4,287.4 634.2,287.4 636.0,287.4 637.2,286.8 639.2,286.8 641.1,286.8 643.1,286.8 645.0,286.8 647.0,286.8 648.2,285.7 650.1,285.7 652.0,285.7 653.8,285.7 655.7,285.7 657.6,285.7 659.5,285.7 661.4,285.7 663.2,285.7 665.1,285.7 667.0,285.7 668.9,285.7 670.7,285.7 672.6,285.7 674.5,285.7 675.7,284.4 677.6,284.4 679.5,284.4 681.4,284.4 683.2,284.4 685.1,284.4 687.0,284.4 688.2,283.2 690.1,283.2 692.1,283.2 694.0,283.2 696.0,283.2 697.9,283.2 699.9,283.2 701.8,283.2 703.7,283.2 705.7,283.2 707.6,283.2 709.6,283.2 711.5,283.2 712.7,283.9 714.5,283.9 716.3,283.9 718.1,283.9 719.9,283.9 721.6,283.9 723.4,283.9 725.2,283.9 727.0,283.9 728.2,284.8 730.2,284.8 732.1,284.8 734.1,284.8 736.1,284.8 738.1,284.8 740.0,284.8 742.0,284.8 743.2,286.0 745.2,286.0 747.1,286.0 749.1,286.0 751.0,286.0 753.0,286.0 754.9,286.0 756.9,286.0 758.8,286.0 760.8,286.0 762.7,286.0 764.6,286.0 766.6,286.0 768.5,286.0 770.5,286.0 771.7,287.0 773.6,287.0 775.5,287.0 777.4,287.0 779.2,287.0 781.1,287.0 783.0,287.0 784.2,288.0 786.1,288.0 788.0,288.0 789.9,288.0 791.9,288.0 793.8,288.0 795.7,288.0 797.6,288.0 799.5,288.0 801.4,288.0 803.4,288.0 805.3,288.0 807.2,288.0 809.1,288.0 811.0,288.0 812.9,288.0 814.8,288.0 816.8,288.0 818.7,288.0 820.6,288.0 822.5,288.0 823.7,289.0 825.6,289.0 827.5,289.0 829.4,289.0 831.4,289.0 833.3,289.0 835.2,289.0 837.1,289.0 839.0,289.0 840.9,289.0 842.8,289.0 844.8,289.0 846.7,289.0 848.6,289.0 850.5,289.0 851.7,290.0 853.6,290.0 855.6,290.0 857.5,290.0 859.4,290.0 861.3,290.0 863.2,290.0 865.2,290.0 867.1,290.0 869.0,290.0 871.0,290.0 872.9,290.0 874.8,290.0 876.7,290.0 878.6,290.0 880.6,290.0 882.5,290.0" fill="none" stroke="#ffff00" stroke-width="2" />
<polyline points="3.0,451.0 4.9,450.8 6.8,450.6 8.7,450.4 10.5,450.2 12.4,449.9 14.3,449.5 16.2,448.8 18.1,447.6 20.0,446.2 21.9,444.8 23.8,443.6 25.6,442.7 27.4,441.8 29.1,441.0 30.9,440.2 32.7,439.4 34.5,438.5 36.2,437.5 38.0,436.4 39.9,434.9 41.8,433.2 43.8,431.3 45.7,429.2 47.6,427.0 49.6,424.5 51.6,421.8 53.5,418.9 55.5,415.9 57.5,412.9 59.5,410.0 61.2,407.6 62.9,405.2 64.5,402.7 66.2,400.3 67.9,398.0 69.7,395.6 71.5,393.3 73.3,391.0 75.1,388.8 76.8,386.5 78.6,384.2 80.4,381.9 82.2,379.5 84.0,377.0 85.8,374.3 87.7,371.5 89.5,368.6 91.3,365.6 93.1,362.6 94.9,359.6 96.8,356.6 98.6,353.7 100.5,350.7 102.4,347.7 104.2,344.7 106.1,341.7 108.0,338.6 109.9,335.6 111.8,332.6 113.6,329.5 115.5,326.5 117.3,323.4 119.2,320.4 121.0,317.5 123.0,314.5 124.9,311.7 126.9,308.9 128.9,306.2 130.9,303.3 132.8,300.3 134.8,297.0 136.6,293.6 138.4,289.7 140.2,285.6 141.9,281.5 143.7,277.5 145.5,274.0 147.3,271.0 149.1,268.5 150.9,266.3 152.7,264.3 154.6,262.4 156.4,260.6 158.2,258.8 160.0,257.0 162.0,255.0 164.0,253.1 166.0,251.2 168.0,249.4 170.0,247.6 172.0,245.8 174.0,244.0 176.0,242.3 178.0,240.6 180.0,238.8 182.0,237.1 184.0,235.5 186.0,234.0 188.0,232.6 190.0,231.4 191.9,230.2 193.9,229.0 195.9,227.9 197.7,226.9 199.6,225.8 201.4,224.8 203.3,223.7 205.1,222.8 207.0,221.9 208.8,221.1 210.7,220.4 212.5,219.9 214.4,219.5 216.3,219.1 218.2,218.7 220.1,218.4 222.0,218.1 223.9,218.0 225.8,217.9 227.4,218.0 229.1,218.3 230.7,218.8 232.4,219.3 234.0,219.9 235.7,220.7 237.3,221.9 239.0,223.2 240.6,224.6 242.3,225.7 244.0,226.8 245.6,227.9 247.3,228.8 248.9,229.6 250.6,229.9 252.4,230.0 254.3,230.0 256.1,230.1 257.9,230.1 259.8,230.1 261.6,230.2 263.4,230.2 265.2,230.2 267.1,230.2 268.9,230.2 270.8,230.1 272.6,230.0 274.5,229.8 276.4,229.5 278.3,229.2 280.1,228.8 282.0,228.5 283.9,228.1 285.8,227.6 287.7,227.1 289.7,226.5 291.6,226.0 293.5,225.4 295.4,224.9 297.3,224.4 299.2,223.8 301.1,223.3 303.0,222.7 304.9,222.3 306.8,222.0 308.7,221.9 310.6,221.9 312.5,221.9 314.4,221.9 316.2,222.0 318.1,222.0 320.0,222.0 322.0,221.8 324.0,221.4 326.0,220.7 328.0,219.9 330.0,219.0 332.0,217.8 334.0,216.1 335.9,214.2 337.9,212.4 339.9,210.7 341.8,209.3 343.8,207.8 345.7,206.4 347.6,205.2 349.6,204.1 351.5,203.2 353.3,202.6 355.1,202.0 357.0,201.4 358.8,200.9 360.6,200.5 362.4,200.1 364.2,199.7 366.1,199.3 367.9,199.0 369.7,198.6 371.6,198.2 373.5,197.9 375.4,197.7 377.4,197.4 379.3,197.2 381.2,196.9 383.1,196.7 385.0,196.4 386.9,196.2 388.9,195.8 390.8,195.5 392.7,195.1 394.6,194.6 396.3,194.0 398.0,193.2 399.6,192.2 401.3,191.2 403.0,190.3 405.0,189.2 407.0,187.9 408.9,186.7 410.9,185.7 412.9,185.0 414.9,184.5 416.9,184.0 418.8,183.7 420.8,183.4 422.8,183.3 424.7,183.3 426.7,183.3 428.6,183.4 430.5,183.4 432.5,183.5 434.4,183.5 436.3,183.5 438.3,183.6 440.2,183.6 442.1,183.7 444.1,183.7 446.0,183.7 447.8,183.6 449.7,183.4 451.5,183.1 453.4,182.7 455.2,182.2 457.1,181.8 458.9,181.3 460.8,180.9 462.6,180.6 464.5,180.3 466.4,180.1 468.3,179.9 470.3,179.6 472.2,179.4 474.1,179.2 476.0,178.9 477.8,178.6 479.7,178.3 481.5,177.9 483.4,177.5 485.2,177.1 487.1,176.8 488.9,176.4 490.8,176.0 492.6,175.6 494.5,175.2 496.4,174.7 498.3,174.2 500.2,173.7 502.1,173.4 504.0,173.1 505.9,173.0 507.7,173.0 509.5,173.1 511.3,173.2 513.1,173.3 515.0,173.4 516.8,173.6 518.6,173.9 520.4,174.1 522.2,174.4 524.0,174.7 526.0,175.4 528.0,176.8 530.0,178.4 532.0,180.0 534.0,181.4 535.9,182.5 537.8,183.6 539.7,184.6 541.7,185.6 543.6,186.6 545.5,187.5 547.4,188.5 549.3,189.4 551.2,190.3 553.2,191.2 555.1,192.1 557.0,192.9 558.9,193.8 560.8,194.7 562.7,195.6 564.5,196.5 566.4,197.4 568.3,198.3 570.2,199.2 572.1,200.0 574.0,200.7 575.8,201.4 577.7,202.0 579.6,202.4 581.5,202.8 583.5,203.0 585.4,203.3 587.3,203.5 589.2,203.7 591.2,203.9 593.1,204.1 595.0,204.3 597.0,204.6 598.9,205.0 600.9,205.5 602.9,206.3 604.9,207.1 606.9,208.1 608.9,209.0 610.8,210.0 612.6,211.1 614.5,212.3 616.4,213.4 618.3,214.6 620.1,215.5 622.0,216.3 623.8,216.9 625.7,217.4 627.5,217.8 629.4,218.3 631.2,218.6 633.0,219.0 634.9,219.4 636.7,219.8 638.6,220.2 640.4,220.7 642.2,221.3 644.1,221.9 645.9,222.6 647.8,223.3 649.6,224.0 651.5,224.7 653.3,225.4 655.2,226.0 657.0,226.5 658.8,226.9 660.5,227.3 662.2,227.7 664.0,228.0 665.8,228.4 667.7,228.7 669.5,229.0 671.4,229.3 673.2,229.6 675.1,229.9 676.9,230.3 678.8,230.6 680.6,231.0 682.5,231.4 684.5,231.9 686.4,232.4 688.4,232.9 690.3,233.5 692.3,234.1 694.2,234.7 696.2,235.3 698.1,235.9 700.1,236.6 702.0,237.3 704.0,238.1 706.0,238.9 708.0,239.8 710.0,240.7 712.0,241.6 714.0,242.6 716.0,243.6 718.0,244.6 720.0,245.7 722.0,246.7 723.8,247.7 725.7,248.7 727.5,249.8 729.4,250.8 731.2,251.9 733.1,253.0 734.9,254.0 736.8,255.0 738.6,255.9 740.6,256.9 742.6,257.8 744.6,258.7 746.6,259.4 748.6,260.0 750.5,260.4 752.4,260.6 754.3,260.9 756.1,261.1 758.0,261.3 759.9,261.6 761.8,261.9 763.6,262.4 765.4,263.0 767.3,263.8 769.1,264.7 770.9,265.6 772.7,266.6 774.5,267.6 776.4,268.5 778.2,269.3 780.0,270.0 782.0,270.7 784.0,271.4 786.0,272.0 788.0,272.7 790.0,273.3 792.0,273.9 794.0,274.4 796.0,274.9 798.0,275.4 800.0,275.8 801.9,276.2 803.7,276.5 805.6,276.8 807.5,277.0 809.4,277.3 811.2,277.5 813.1,277.8 815.0,278.1 816.8,278.4 818.7,278.7 820.5,279.1 822.4,279.6 824.2,280.1 826.1,280.6 827.9,281.1 829.8,281.6 831.6,282.1 833.5,282.4 835.3,282.7 837.2,282.9 839.1,283.0 841.0,283.1 842.9,283.2 844.8,283.3 846.7,283.5 848.6,283.7 850.3,284.2 851.9,285.0 853.6,285.9 855.2,286.7 856.9,287.0 858.8,287.0 860.8,287.0 862.7,287.0 864.6,287.0 866.6,287.0 868.5,287.0 870.5,286.8 872.5,286.2 874.4,285.5 876.4,284.8 878.4,284.4 880.1,284.2 881.7,284.1 883.4,284.0" fill="none" stroke="#a52222" stroke-width="2" />
<polyline points="3.0,428.0 4.9,428.0 6.8,428.0 8.8,428.0 10.7,428.0 12.7,427.4 14.7,426.1 16.7,424.5 18.5,422.7 20.2,420.4 22.0,418.0 23.8,416.0 25.8,414.3 27.8,412.9 29.8,411.5 31.7,410.2 33.7,408.6 35.7,406.7 37.7,404.1 39.7,400.9 41.7,397.2 43.6,393.2 45.6,389.1 47.6,385.0 49.0,382.2 50.4,379.2 51.8,376.0 53.4,371.9 55.1,367.5 56.7,362.9 58.4,358.2 60.0,353.7 61.9,348.6 63.7,343.5 65.6,338.4 67.4,333.7 69.3,329.2 71.2,324.9 73.1,320.8 75.0,316.8 76.5,313.8 78.1,311.0 79.7,308.1 81.2,305.0 82.8,301.7 84.3,298.2 85.9,294.4 87.4,290.0 88.7,285.0 90.0,279.8 91.8,273.9 93.5,268.3 95.3,263.0 97.1,258.0 98.9,253.2 100.6,248.9 102.4,244.8 104.2,241.1 106.0,237.6 107.8,234.5 109.5,231.4 111.3,228.4 113.1,225.5 114.9,222.4 116.7,219.3 118.4,216.3 120.2,213.3 122.0,210.3 123.8,207.3 125.5,204.2 127.3,201.0 129.2,197.5 131.2,193.9 133.1,190.2 135.0,186.0 136.7,181.8 138.3,177.2 140.0,172.4 141.7,167.2 143.3,161.9 145.0,157.4 146.7,153.9 148.3,150.8 150.0,148.7 151.7,147.3 153.3,146.3 155.0,145.6 156.8,145.1 158.5,144.8 160.3,144.5 162.1,144.3 163.9,144.1 165.6,143.8 167.4,143.5 169.3,143.0 171.2,142.5 173.1,142.0 175.0,141.8 177.0,142.4 179.0,143.4 181.0,144.0 182.8,143.9 184.6,143.6 186.4,143.4 188.2,143.1 190.0,143.0 191.7,143.3 193.3,144.1 195.0,145.0 196.7,146.1 198.4,147.6 200.0,149.0 201.7,150.1 203.4,150.6 205.1,150.6 206.7,150.6 208.4,150.6 210.0,150.6 211.7,150.6 213.5,151.7 215.3,154.2 217.2,157.3 219.0,159.8 221.0,161.7 223.0,163.3 225.0,164.9 227.0,166.7 229.0,168.9 230.7,171.3 232.3,174.3 234.0,177.7 235.7,181.3 237.3,185.5 239.0,190.3 240.7,195.2 242.3,199.6 244.0,203.6 245.7,207.5 247.3,210.9 249.0,213.6 250.7,215.8 252.3,217.9 253.9,219.5 255.6,220.3 257.3,220.6 258.9,220.8 260.6,221.0 262.3,221.1 263.9,221.2 265.6,221.4 267.5,221.7 269.5,222.0 271.4,222.3 273.3,222.5 275.3,222.7 277.2,222.8 279.2,222.5 281.1,221.8 283.1,220.8 285.0,219.7 287.0,218.6 289.0,217.5 291.0,216.3 293.0,215.0 295.0,213.8 297.0,212.8 298.7,212.0 300.4,211.2 302.0,210.5 303.7,210.0 305.4,209.8 307.2,209.8 309.0,209.9 310.9,210.1 312.7,210.2 314.5,210.4 316.4,210.6 318.2,210.7 320.0,210.7 321.8,210.7 323.5,210.7 325.2,210.7 327.0,210.7 328.6,209.4 330.3,206.3 331.9,202.9 333.5,199.3 335.0,195.2 336.6,191.6 338.2,188.7 339.9,186.2 341.6,183.6 343.2,180.9 344.9,178.4 346.5,176.5 348.2,175.4 350.2,174.9 352.1,174.5 354.1,174.3 356.0,174.0 358.0,173.7 359.9,173.2 361.9,172.6 363.9,172.0 365.8,171.5 367.8,171.1 369.7,170.9 371.6,170.9 373.5,171.0 375.4,171.2 377.3,171.3 379.2,171.5 381.1,171.8 383.0,172.0 384.9,172.4 386.9,173.1 388.8,173.9 390.7,174.6 392.7,175.2 394.6,175.4 396.3,174.8 398.0,173.2 399.6,171.2 401.3,168.9 403.0,167.0 404.6,165.1 406.3,163.1 407.9,161.1 409.6,159.6 411.2,158.8 413.1,158.5 414.9,158.2 416.8,158.1 418.7,158.0 420.5,158.4 422.3,159.4 424.2,160.6 426.0,161.9 427.8,163.0 429.7,163.9 431.5,164.8 433.4,165.8 435.2,166.7 437.1,167.5 439.0,168.1 440.8,168.5 442.7,168.7 444.7,168.7 446.7,168.7 448.7,168.7 450.7,168.7 452.7,168.7 454.6,168.6 456.5,168.3 458.4,168.0 460.2,167.5 462.1,167.0 464.0,166.6 465.9,166.3 467.6,166.1 469.3,165.9 470.9,165.7 472.6,165.5 474.3,165.3 476.0,165.1 477.9,164.9 479.7,164.6 481.6,164.4 483.4,164.2 485.3,163.9 487.2,163.6 489.0,163.2 490.9,162.8 492.6,162.1 494.2,161.1 495.9,160.2 497.6,159.8 499.4,159.8 501.1,159.8 502.9,159.9 504.7,160.0 506.5,160.1 508.2,160.2 510.0,160.3 511.9,161.1 513.8,162.8 515.6,164.8 517.5,166.4 519.1,167.3 520.8,168.0 522.4,168.8 524.0,169.8 526.0,171.7 528.0,174.2 530.0,177.1 532.0,180.1 534.0,183.0 536.0,185.8 537.9,188.7 539.9,191.6 541.8,194.5 543.8,197.2 545.7,199.6 547.7,201.8 549.6,203.8 551.5,205.8 553.5,207.6 555.5,209.3 557.4,210.9 559.4,212.3 561.4,213.6 563.3,214.8 565.3,216.1 567.3,217.6 569.0,219.3 570.6,221.5 572.3,223.7 573.9,225.4 575.6,226.3 577.2,226.5 578.9,226.7 580.5,226.9 582.2,227.0 583.8,227.0 585.5,226.7 587.3,226.0 589.0,225.7 590.9,225.7 592.8,225.7 594.8,225.7 596.7,225.8 598.6,225.8 600.5,225.9 602.2,226.5 603.9,228.1 605.5,230.1 607.2,232.2 608.9,234.0 610.9,235.8 612.9,237.7 614.8,239.5 616.8,241.0 618.8,242.3 620.5,243.2 622.1,244.0 623.8,244.6 625.5,245.0 627.5,245.3 629.5,245.5 631.4,245.6 633.4,245.8 635.4,246.0 637.4,246.4 639.4,246.8 641.4,247.3 643.4,247.9 645.4,248.4 647.0,248.9 648.7,249.4 650.3,249.9 652.0,250.3 653.6,250.6 655.3,250.8 657.1,250.9 658.8,251.0 660.5,251.1 662.3,251.2 664.0,251.2 665.9,251.2 667.8,251.1 669.7,250.9 671.6,250.8 673.5,250.6 675.4,250.5 677.3,250.5 679.3,250.6 681.3,250.9 683.2,251.4 685.2,251.9 687.2,252.5 689.2,253.3 691.2,254.3 693.2,255.5 695.2,256.6 697.2,257.5 698.9,258.0 700.5,258.5 702.2,258.9 703.8,259.4 705.5,260.0 707.4,261.1 709.3,262.7 711.2,264.6 713.2,266.6 715.1,268.6 717.0,270.4 718.9,272.1 720.8,273.7 722.7,275.4 724.6,277.0 726.5,278.6 728.4,280.1 730.3,281.6 732.2,283.2 734.2,285.0 736.1,286.8 738.1,288.3 740.0,289.4 742.0,289.8 743.9,289.8 745.7,289.7 747.6,289.5 749.5,289.4 751.3,289.3 753.2,289.1 755.0,289.0 756.9,289.0 758.9,289.2 760.9,289.7 762.8,290.5 764.8,291.4 766.8,292.3 768.5,293.2 770.3,294.3 772.0,295.6 773.8,296.8 775.5,297.8 777.3,298.8 779.1,299.9 780.9,300.9 782.7,301.7 784.5,302.0 786.4,302.1 788.2,302.2 790.1,302.3 791.9,302.3 793.8,302.4 795.6,302.5 797.5,302.5 799.4,302.5 801.2,302.6 803.1,302.6 804.9,302.6 806.8,302.6 808.6,302.2 810.5,301.4 812.3,300.4 814.2,299.6 816.0,299.2 817.9,299.2 819.8,299.3 821.8,299.3 823.7,299.4 825.6,299.6 827.5,299.7 829.2,300.1 831.0,300.7 832.7,301.5 834.5,302.1 836.2,302.4 837.8,302.4 839.4,302.4 840.9,302.4 842.5,302.4 844.4,301.8 846.2,300.5 848.1,299.9 849.6,300.3 851.0,301.2 852.5,302.2 854.2,303.4 855.8,304.7 857.5,305.3 859.3,305.4 861.2,305.5 863.0,305.5 864.8,305.0 866.5,304.0 868.2,302.9 870.0,301.5 871.5,300.0 873.1,298.2 874.7,296.3 876.2,294.7 877.9,293.2 879.6,291.8 881.3,290.4 883.0,289.0" fill="none" stroke="#000080" stroke-width="2" />
<line x1="99" y1="15.8" x2="922" y2="248.8" stroke="#274c4c" stroke-width="2"/>
</g>
<g clip-path="url(#cp1)">
<line x1="67.5" y1="506" x2="67.5" y2="558" stroke="#000" stroke-width="1" stroke-dasharray="3 3"/><line x1="151.5" y1="506" x2="151.5" y2="558" stroke="#000" stroke-width="1" stroke-dasharray="3 3"/><line x1="239.5" y1="506" x2="239.5" y2="558" stroke="#000" stroke-width="1" stroke-dasharray="3 3"/><line x1="319.5" y1="506" x2="319.5" y2="558" stroke="#000" stroke-width="1" stroke-dasharray="3 3"/><line x1="403.5" y1="506" x2="403.5" y2="558" stroke="#000" stroke-width="1" stroke-dasharray="3 3"/><line x1="491.5" y1="506" x2="491.5" y2="558" stroke="#000" stroke-width="1" stroke-dasharray="3 3"/><line x1="579.5" y1="506" x2="579.5" y2="558" stroke="#000" stroke-width="1" stroke-dasharray="3 3"/><line x1="663.5" y1="506" x2="663.5" y2="558" stroke="#000" stroke-width="1" stroke-dasharray="3 3"/><line x1="755.5" y1="506" x2="755.5" y2="558" stroke="#000" stroke-width="1" stroke-dasharray="3 3"/><line x1="839.5" y1="506" x2="839.5" y2="558" stroke="#000" stroke-width="1" stroke-dasharray="3 3"/>
<line x1="3" y1="535.5" x2="922" y2="535.5" stroke="#c0c0c0" stroke-width="1" stroke-dasharray="3 3" stroke-dashoffset="5"/>
<polyline points="3.3,542.5 6.6,543.5 10.8,536.3 14.9,537.2 23.2,533.5 27.4,535.2 34.8,532.5 39.8,523.0 46.4,519.8 49.8,520.6 55.6,510.6 59.7,511.0 63.8,514.0 71.3,516.4 75.5,519.0 79.6,522.2 82.9,517.3 87.0,512.3 91.2,510.6 94.5,515.6 99.5,519.3 106.0,520.6 111.0,526.4 116.0,523.6 122.7,525.2 131.0,524.2 135.2,520.3 142.6,525.2 147.6,524.2 151.7,530.5 156.2,535.2 166.2,532.7 175.0,536.5 179.5,541.5 183.7,535.2 190.0,539.0 196.2,547.0 202.4,547.7 211.2,538.5 216.9,543.5 222.9,541.5 228.7,545.2 234.9,546.0 239.9,555.2 244.9,551.0 248.7,550.2 254.9,542.0 266.0,541.5 272.4,536.0 278.6,539.0 284.9,532.0 291.1,527.7 295.4,520.2 299.9,524.0 303.6,524.5 309.8,532.0 313.6,534.0 316.8,532.7 319.8,536.5 324.8,532.7 327.3,533.5 334.3,522.7 342.3,527.7 347.3,527.0 353.5,535.2 359.8,531.0 366.0,529.5 371.0,532.7 376.0,529.5 382.3,532.7 387.4,542.0 391.2,545.2 403.7,534.5 407.5,529.5 411.2,530.2 416.2,536.5 419.5,534.5 423.7,539.5 427.5,535.2 438.7,537.0 447.4,533.5 459.9,540.2 464.9,539.5 472.4,535.2 476.2,537.0 479.4,530.2 484.9,534.0 497.4,532.7 507.4,535.2 516.1,540.2 522.4,540.2 536.1,545.2 539.8,544.5 547.3,546.5 554.8,544.5 564.8,544.0 571.0,542.0 576.0,541.0 584.8,535.2 591.0,533.5 599.8,533.5 604.8,536.5 611.0,539.5 617.5,538.5 626.2,535.2 640.0,539.0 653.7,540.2 663.7,532.7 668.7,531.0 682.4,536.0 692.4,538.5 699.9,537.7 714.9,541.5 721.1,541.5 727.4,544.5 733.6,541.5 743.6,541.0 747.4,536.0 754.9,537.0 769.8,536.5 772.3,538.5 778.6,535.2 799.8,535.2 803.5,537.7 809.8,535.2 819.8,535.2 826.8,533.5 832.3,536.2 839.5,533.7 844.6,530.8 847.5,532.3 851.1,537.7 854.7,539.1 861.3,536.6 868.5,534.5 875.8,529.4 878.7,530.4 883.0,530.4" fill="none" stroke="#1e90ff" stroke-width="1" />
</g>
<g clip-path="url(#cp2)">
<line x1="67.5" y1="560" x2="67.5" y2="608" stroke="#000" stroke-width="1" stroke-dasharray="3 3"/><line x1="151.5" y1="560" x2="151.5" y2="608" stroke="#000" stroke-width="1" stroke-dasharray="3 3"/><line x1="239.5" y1="560" x2="239.5" y2="608" stroke="#000" stroke-width="1" stroke-dasharray="3 3"/><line x1="319.5" y1="560" x2="319.5" y2="608" stroke="#000" stroke-width="1" stroke-dasharray="3 3"/><line x1="403.5" y1="560" x2="403.5" y2="608" stroke="#000" stroke-width="1" stroke-dasharray="3 3"/><line x1="491.5" y1="560" x2="491.5" y2="608" stroke="#000" stroke-width="1" stroke-dasharray="3 3"/><line x1="579.5" y1="560" x2="579.5" y2="608" stroke="#000" stroke-width="1" stroke-dasharray="3 3"/><line x1="663.5" y1="560" x2="663.5" y2="608" stroke="#000" stroke-width="1" stroke-dasharray="3 3"/><line x1="755.5" y1="560" x2="755.5" y2="608" stroke="#000" stroke-width="1" stroke-dasharray="3 3"/><line x1="839.5" y1="560" x2="839.5" y2="608" stroke="#000" stroke-width="1" stroke-dasharray="3 3"/>
<line x1="3" y1="575.5" x2="922" y2="575.5" stroke="#556b2f" stroke-width="1" stroke-dasharray="3 3" stroke-dashoffset="5"/>
<line x1="3" y1="584.5" x2="922" y2="584.5" stroke="#556b2f" stroke-width="1" stroke-dasharray="3 3" stroke-dashoffset="5"/>
<line x1="3" y1="594.5" x2="922" y2="594.5" stroke="#556b2f" stroke-width="1" stroke-dasharray="3 3" stroke-dashoffset="5"/>
<polyline points="3.3,588.9 10.0,583.9 16.6,582.8 24.9,579.0 35.7,580.0 44.0,575.3 54.7,574.0 63.0,571.2 71.3,572.3 81.3,572.3 89.6,569.0 96.2,571.2 102.8,570.3 112.8,574.0 117.7,572.0 131.0,571.5 139.3,569.5 146.8,569.0 150.5,574.8 157.5,582.0 175.0,581.0 179.5,586.0 187.5,582.7 197.5,587.0 211.2,585.2 216.2,590.2 223.7,587.7 238.7,595.2 248.7,595.2 257.4,586.4 279.9,586.0 286.1,582.0 291.1,584.4 297.4,582.0 309.8,586.0 324.8,585.2 334.8,576.4 346.0,577.7 354.8,585.2 363.5,582.7 374.8,585.2 382.3,584.0 391.2,586.4 402.5,578.9 408.7,578.9 415.0,582.7 423.7,586.4 432.4,585.2 442.4,586.4 457.4,583.4 477.4,583.9 482.4,582.0 487.4,583.4 493.6,582.7 499.9,583.9 507.4,583.9 516.1,590.9 522.4,590.2 531.1,594.4 539.8,595.2 547.3,596.4 554.8,593.4 562.3,592.7 569.8,595.2 574.8,593.4 579.8,588.9 586.0,585.2 598.5,585.2 607.3,591.9 612.3,592.7 617.5,591.9 625.0,588.9 635.0,586.9 645.0,586.4 653.7,588.9 662.4,585.2 671.2,583.9 682.4,586.9 693.7,590.9 701.2,588.4 711.1,593.4 719.9,593.9 726.1,595.2 733.6,591.9 741.1,592.7 749.9,585.2 759.9,585.2 767.3,590.2 773.6,591.9 784.8,589.4 797.3,585.9 803.5,586.9 809.8,582.7 816.0,582.7 822.3,585.2 830.8,588.4 838.8,587.4 843.1,580.9 848.2,580.9 851.8,587.4 856.2,589.6 859.8,587.4 865.6,582.3 871.4,580.2 877.2,578.0 883.0,579.1" fill="none" stroke="#800000" stroke-width="2" />
</g>
<g clip-path="url(#cp3)">
<line x1="67.5" y1="610" x2="67.5" y2="671" stroke="#000" stroke-width="1" stroke-dasharray="3 3"/><line x1="151.5" y1="610" x2="151.5" y2="671" stroke="#000" stroke-width="1" stroke-dasharray="3 3"/><line x1="239.5" y1="610" x2="239.5" y2="671" stroke="#000" stroke-width="1" stroke-dasharray="3 3"/><line x1="319.5" y1="610" x2="319.5" y2="671" stroke="#000" stroke-width="1" stroke-dasharray="3 3"/><line x1="403.5" y1="610" x2="403.5" y2="671" stroke="#000" stroke-width="1" stroke-dasharray="3 3"/><line x1="491.5" y1="610" x2="491.5" y2="671" stroke="#000" stroke-width="1" stroke-dasharray="3 3"/><line x1="579.5" y1="610" x2="579.5" y2="671" stroke="#000" stroke-width="1" stroke-dasharray="3 3"/><line x1="663.5" y1="610" x2="663.5" y2="671" stroke="#000" stroke-width="1" stroke-dasharray="3 3"/><line x1="755.5" y1="610" x2="755.5" y2="671" stroke="#000" stroke-width="1" stroke-dasharray="3 3"/><line x1="839.5" y1="610" x2="839.5" y2="671" stroke="#000" stroke-width="1" stroke-dasharray="3 3"/>
<line x1="3" y1="615.5" x2="922" y2="615.5" stroke="#000080" stroke-width="1" stroke-dasharray="3 3" stroke-dashoffset="5"/>
<line x1="3" y1="623.5" x2="922" y2="623.5" stroke="#000080" stroke-width="1" stroke-dasharray="3 3" stroke-dashoffset="5"/>
<line x1="3" y1="632.5" x2="922" y2="632.5" stroke="#000080" stroke-width="1" stroke-dasharray="3 3" stroke-dashoffset="5"/>
<line x1="3" y1="640.5" x2="922" y2="640.5" stroke="#000080" stroke-width="1" stroke-dasharray="3 3" stroke-dashoffset="5"/>
<line x1="3" y1="648.5" x2="922" y2="648.5" stroke="#000080" stroke-width="1" stroke-dasharray="3 3" stroke-dashoffset="5"/>
<line x1="3" y1="657.5" x2="922" y2="657.5" stroke="#000080" stroke-width="1" stroke-dasharray="3 3" stroke-dashoffset="5"/>
<line x1="3" y1="665.5" x2="922" y2="665.5" stroke="#000080" stroke-width="1" stroke-dasharray="3 3" stroke-dashoffset="5"/>
<polyline points="3.7,655.2 8.7,647.3 14.9,639.8 19.9,638.6 26.1,630.3 31.1,631.1 34.8,628.6 39.3,635.3 43.5,627.9 52.2,627.9 58.5,629.9 65.9,629.4 74.6,632.8 82.1,634.3 87.1,627.9 93.3,627.9 100.7,631.8 107.0,631.1 114.4,636.1 119.4,631.8 126.9,634.3 133.1,631.1 138.1,627.4 143.0,622.9 146.8,624.4 150.5,628.5 156.2,640.1 162.5,645.9 175.0,644.4 183.0,654.3 187.5,644.4 193.7,645.1 200.0,650.9 211.2,645.1 215.4,645.9 219.9,655.8 226.9,646.9 232.4,652.6 239.9,656.8 244.9,656.8 251.1,650.1 259.9,639.4 268.6,636.9 279.9,637.6 286.9,630.9 293.6,633.9 302.3,631.9 309.8,638.9 322.3,648.9 327.3,637.6 331.0,637.6 335.3,615.1 339.8,622.6 347.3,631.4 351.0,632.6 356.0,640.9 363.5,640.1 371.0,641.4 377.3,645.1 383.5,643.9 391.2,649.4 395.0,649.4 401.2,633.9 407.0,621.4 411.2,624.4 415.0,631.4 419.5,641.4 423.7,640.9 428.0,648.4 432.4,643.9 439.9,646.9 447.4,645.9 454.9,641.4 462.4,639.4 469.9,633.9 479.9,635.1 482.9,630.1 487.4,633.9 496.1,632.6 502.4,636.4 507.4,641.9 511.1,638.4 513.6,653.9 515.4,667.6 518.6,665.1 523.6,653.4 539.8,651.4 552.3,648.9 566.0,643.9 571.0,649.4 576.0,649.4 579.8,642.6 586.8,624.4 594.8,626.4 599.8,631.4 607.3,646.4 612.3,652.6 616.0,652.6 620.0,646.9 632.5,642.6 645.0,641.4 651.2,638.4 658.7,642.6 663.7,633.9 675.4,630.1 687.4,655.1 691.2,643.4 694.9,657.6 703.7,646.4 714.9,655.8 722.4,650.1 728.6,651.9 734.9,646.4 739.9,646.9 747.4,644.4 751.1,635.1 756.1,634.4 762.3,631.9 773.6,650.1 779.8,641.4 784.8,645.9 793.6,642.6 807.3,640.1 815.3,625.1 822.3,636.4 827.3,640.9 831.0,641.9 835.2,648.2 838.8,648.2 843.9,642.7 847.5,627.9 851.1,631.8 855.5,653.6 859.1,653.6 864.2,642.7 871.4,630.3 875.8,627.0 880.1,627.0 883.3,631.4" fill="none" stroke="#dc143c" stroke-width="2" />
</g>
<rect x="2.5" y="2.5" width="920" height="502" fill="none" stroke="#000" stroke-width="1"/>
<rect x="2.5" y="506.5" width="920" height="52" fill="none" stroke="#000" stroke-width="1"/>
<rect x="2.5" y="560.5" width="920" height="48" fill="none" stroke="#000" stroke-width="1"/>
<rect x="2.5" y="610.5" width="920" height="61" fill="none" stroke="#000" stroke-width="1"/>
<rect x="923" y="6" width="2" height="1" fill="#000"/>
<rect x="923" y="39" width="2" height="1" fill="#000"/>
<rect x="923" y="72" width="2" height="1" fill="#000"/>
<rect x="923" y="105" width="2" height="1" fill="#000"/>
<rect x="923" y="138" width="2" height="1" fill="#000"/>
<rect x="923" y="171" width="2" height="1" fill="#000"/>
<rect x="923" y="204" width="2" height="1" fill="#000"/>
<rect x="923" y="237" width="2" height="1" fill="#000"/>
<rect x="923" y="270" width="2" height="1" fill="#000"/>
<rect x="923" y="303" width="2" height="1" fill="#000"/>
<rect x="923" y="336" width="2" height="1" fill="#000"/>
<rect x="923" y="369" width="2" height="1" fill="#000"/>
<rect x="923" y="402" width="2" height="1" fill="#000"/>
<rect x="923" y="435" width="2" height="1" fill="#000"/>
<rect x="923" y="468" width="2" height="1" fill="#000"/>
<rect x="923" y="501" width="2" height="1" fill="#000"/>
<rect x="923" y="508" width="2" height="1" fill="#000"/>
<rect x="923" y="557" width="2" height="1" fill="#000"/>
<rect x="923" y="562" width="2" height="1" fill="#000"/>
<rect x="923" y="607" width="2" height="1" fill="#000"/>
<rect x="923" y="612" width="2" height="1" fill="#000"/>
<rect x="923" y="640" width="2" height="1" fill="#000"/>
<rect x="923" y="670" width="2" height="1" fill="#000"/>
<rect x="3" y="672" width="1" height="3" fill="#000"/>
<rect x="67" y="672" width="1" height="3" fill="#000"/>
<rect x="131" y="672" width="1" height="3" fill="#000"/>
<rect x="195" y="672" width="1" height="3" fill="#000"/>
<rect x="259" y="672" width="1" height="3" fill="#000"/>
<rect x="323" y="672" width="1" height="3" fill="#000"/>
<rect x="387" y="672" width="1" height="3" fill="#000"/>
<rect x="451" y="672" width="1" height="3" fill="#000"/>
<rect x="515" y="672" width="1" height="3" fill="#000"/>
<rect x="579" y="672" width="1" height="3" fill="#000"/>
<rect x="643" y="672" width="1" height="3" fill="#000"/>
<rect x="707" y="672" width="1" height="3" fill="#000"/>
<rect x="771" y="672" width="1" height="3" fill="#000"/>
<rect x="835" y="672" width="1" height="3" fill="#000"/>
<rect x="924" y="79" width="41" height="11" fill="#4682b4"/>
<rect x="924" y="347" width="41" height="11" fill="#4682b4"/>
<rect x="924" y="249" width="41" height="11" fill="#000"/>
<path d="M6 9h7v1h-1v1h-1v1h-1v1h-1v-1h-1v-1h-1v-1h-1z" fill="#000"/>
</g>
<text x="928" y="9.0" textLength="32.6" lengthAdjust="spacing" >146.320</text>
<text x="928" y="42.0" textLength="32.6" lengthAdjust="spacing" >145.300</text>
<text x="928" y="75.0" textLength="32.6" lengthAdjust="spacing" >144.280</text>
<text x="928" y="108.0" textLength="32.6" lengthAdjust="spacing" >143.260</text>
<text x="928" y="141.0" textLength="32.6" lengthAdjust="spacing" >142.240</text>
<text x="928" y="174.0" textLength="32.6" lengthAdjust="spacing" >141.220</text>
<text x="928" y="207.0" textLength="32.6" lengthAdjust="spacing" >140.200</text>
<text x="928" y="240.0" textLength="32.6" lengthAdjust="spacing" >139.180</text>
<text x="928" y="273.0" textLength="32.6" lengthAdjust="spacing" >138.160</text>
<text x="928" y="306.0" textLength="32.6" lengthAdjust="spacing" >137.140</text>
<text x="928" y="339.0" textLength="32.6" lengthAdjust="spacing" >136.120</text>
<text x="928" y="372.0" textLength="32.6" lengthAdjust="spacing" >135.100</text>
<text x="928" y="405.0" textLength="32.6" lengthAdjust="spacing" >134.080</text>
<text x="928" y="438.0" textLength="32.6" lengthAdjust="spacing" >133.060</text>
<text x="928" y="471.0" textLength="32.6" lengthAdjust="spacing" >132.040</text>
<text x="928" y="504.0" textLength="32.6" lengthAdjust="spacing" >131.020</text>
<text x="928" y="88" fill="#e8e8e8" textLength="32.6" lengthAdjust="spacing" >143.863</text>
<text x="928" y="356" fill="#e8e8e8" textLength="32.6" lengthAdjust="spacing" >135.587</text>
<text x="928" y="258" fill="#fff" textLength="32.6" lengthAdjust="spacing" >138.621</text>
<text x="18.5" y="14" textLength="59" lengthAdjust="spacing" >EURJPY,Daily</text>
<text x="84.6" y="14" textLength="32.6" lengthAdjust="spacing" >138.677</text>
<text x="120.69999999999999" y="14" textLength="32.6" lengthAdjust="spacing" >138.785</text>
<text x="156.8" y="14" textLength="32.6" lengthAdjust="spacing" >138.511</text>
<text x="192.9" y="14" textLength="32.6" lengthAdjust="spacing" >138.621</text>
<text x="7.5" y="519" textLength="103" lengthAdjust="spacing" >Momentum(14) 101.1743</text>
<text x="7.5" y="573" textLength="67.1" lengthAdjust="spacing" >RSI(14) 62.2436</text>
<text x="7.5" y="622.5" textLength="73.9" lengthAdjust="spacing" >CCI(14) 108.5860</text>
<text x="7.5" y="667" textLength="297.9" lengthAdjust="spacing" >FXDD Malta - MetaTrader 4, © 2001-2014, MetaQuotes Software Corp.</text>
<text x="926.5" y="517.2" textLength="37.2" lengthAdjust="spacing" >105.8736</text>
<text x="926" y="538" >100</text>
<text x="926.3" y="555.3" textLength="32.8" lengthAdjust="spacing" >95.3222</text>
<text x="926.2" y="571" >100</text>
<text x="926.2" y="578.3" >70</text>
<text x="926.2" y="587.4" >50</text>
<text x="926.2" y="597" >30</text>
<text x="926.2" y="605" >0</text>
<text x="925.7" y="618" >300</text>
<text x="925.7" y="621.3" textLength="37.6" lengthAdjust="spacing" >341.4868</text>
<text x="925.7" y="626.6" >200</text>
<text x="925.7" y="635" >100</text>
<text x="925.7" y="643.2" >0</text>
<text x="925.7" y="643.2" >0.00</text>
<text x="925" y="651.9" >-100</text>
<text x="925" y="660.1" >-200</text>
<text x="925" y="668.5" >-300</text>
<text x="925" y="668.5" textLength="40.5" lengthAdjust="spacing" >-359.4129</text>
<text x="2.3" y="684" textLength="48.8" lengthAdjust="spacing" >8 Nov 2013</text>
<text x="66.3" y="684" textLength="48.2" lengthAdjust="spacing" >2 Dec 2013</text>
<text x="130.3" y="684" textLength="52.7" lengthAdjust="spacing" >24 Dec 2013</text>
<text x="194.3" y="684" textLength="50.8" lengthAdjust="spacing" >17 Jan 2014</text>
<text x="258.3" y="684" textLength="52.5" lengthAdjust="spacing" >10 Feb 2014</text>
<text x="322.3" y="684" textLength="47.5" lengthAdjust="spacing" >4 Mar 2014</text>
<text x="386.3" y="684" textLength="52.2" lengthAdjust="spacing" >26 Mar 2014</text>
<text x="450.3" y="684" textLength="50.8" lengthAdjust="spacing" >17 Apr 2014</text>
<text x="514.3" y="684" textLength="50.2" lengthAdjust="spacing" >9 May 2014</text>
<text x="578.3" y="684" textLength="45.2" lengthAdjust="spacing" >2 Jun 2014</text>
<text x="642.3" y="684" textLength="49.9" lengthAdjust="spacing" >24 Jun 2014</text>
<text x="706.3" y="684" textLength="46.8" lengthAdjust="spacing" >16 Jul 2014</text>
<text x="770.3" y="684" textLength="47.5" lengthAdjust="spacing" >7 Aug 2014</text>
<text x="834.3" y="684" textLength="51.8" lengthAdjust="spacing" >29 Aug 2014</text>
</svg>
</body></html>
